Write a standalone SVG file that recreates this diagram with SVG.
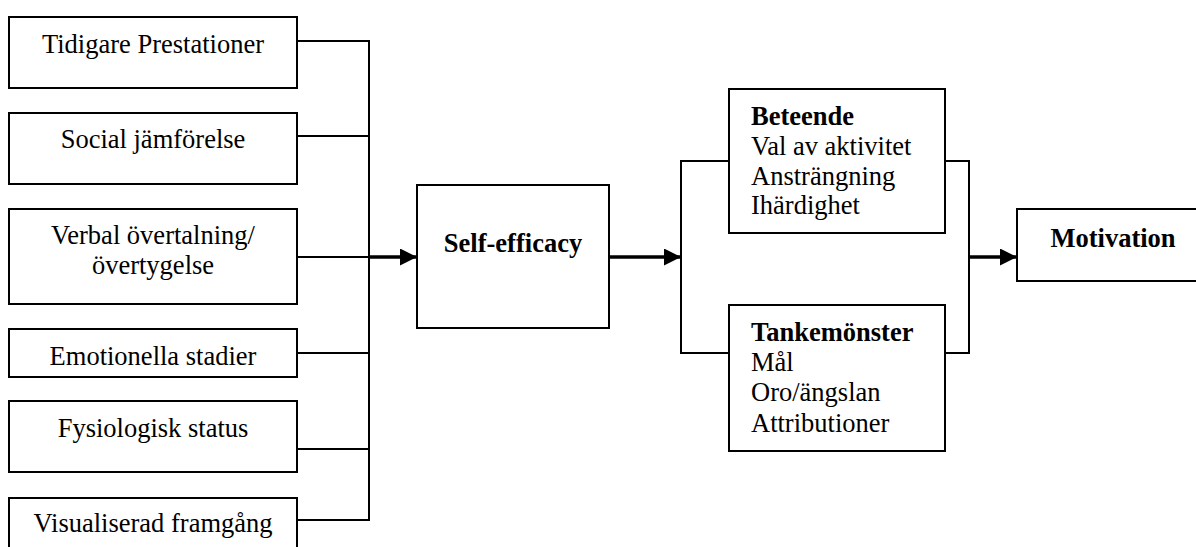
<svg xmlns="http://www.w3.org/2000/svg" width="1196" height="547" viewBox="0 0 1196 547">
<style>
.box{fill:#fff;stroke:#000;stroke-width:2}
.t{font-family:"Liberation Serif","Times New Roman",serif;font-size:26.5px;fill:#000}
.c{text-anchor:middle}
.b{font-weight:bold}
.ln{fill:none;stroke:#000;stroke-width:2}
.ar{fill:none;stroke:#000;stroke-width:3.5}
</style>
<defs>
<marker id="ah" markerUnits="userSpaceOnUse" markerWidth="18" markerHeight="18" refX="17" refY="8.5" orient="auto">
<path d="M0,0 L17,8.5 L0,17 Z" fill="#000"/>
</marker>
</defs>
<rect width="1196" height="547" fill="#fff"/>
<g id="n1"><rect class="box" x="9" y="17" width="288" height="71"/><text class="t c" x="153" y="53">Tidigare Prestationer</text></g>
<g id="n2"><rect class="box" x="9" y="113" width="288" height="71"/><text class="t c" x="153" y="148">Social jämförelse</text></g>
<g id="n3"><rect class="box" x="9" y="209" width="288" height="95"/><text class="t c" x="153" y="244">Verbal övertalning/</text><text class="t c" x="153" y="274">övertygelse</text></g>
<g id="n4"><rect class="box" x="9" y="329" width="288" height="48"/><text class="t c" x="153" y="365">Emotionella stadier</text></g>
<g id="n5"><rect class="box" x="9" y="401" width="288" height="71"/><text class="t c" x="153" y="437">Fysiologisk status</text></g>
<g id="n6"><rect class="box" x="9" y="498" width="288" height="60"/><text class="t c" x="153" y="532">Visualiserad framgång</text></g>
<g id="selfefficacy"><rect class="box" x="417" y="185" width="192" height="143"/><text class="t c b" x="513" y="252">Self-efficacy</text></g>
<g id="beteende"><rect class="box" x="729" y="89" width="216" height="144"/>
<text class="t b" x="751" y="125">Beteende</text>
<text class="t" x="751" y="155">Val av aktivitet</text>
<text class="t" x="751" y="185">Ansträngning</text>
<text class="t" x="751" y="214">Ihärdighet</text></g>
<g id="tankemonster"><rect class="box" x="729" y="305" width="216" height="146"/>
<text class="t b" x="751" y="341">Tankemönster</text>
<text class="t" x="751" y="371">Mål</text>
<text class="t" x="751" y="401">Oro/ängslan</text>
<text class="t" x="751" y="432">Attributioner</text></g>
<g id="motivation"><rect class="box" x="1017" y="209" width="192" height="72"/><text class="t c b" x="1113" y="247">Motivation</text></g>
<g id="connectors">
<path class="ln" d="M297,41 H369 V520 H297 M297,136 H369 M297,257 H369 M297,353 H369 M297,449 H369"/>
<path class="ar" d="M369,257 H417" marker-end="url(#ah)"/>
<path class="ar" d="M609,257 H681" marker-end="url(#ah)"/>
<path class="ln" d="M729,161 H681 V353 H729"/>
<path class="ln" d="M945,161 H969 V353 H945"/>
<path class="ar" d="M969,257 H1017" marker-end="url(#ah)"/>
</g>
</svg>
